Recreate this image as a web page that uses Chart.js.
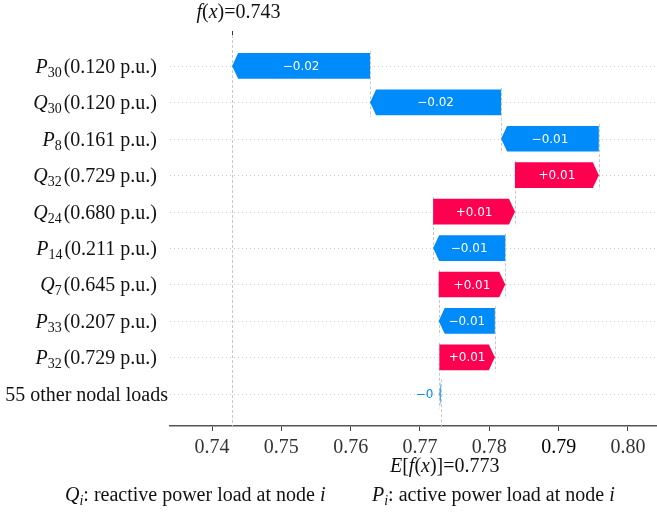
<!DOCTYPE html>
<html>
<head>
<meta charset="utf-8">
<script src="https://cdn.jsdelivr.net/npm/chart.js@4"></script>
<style>
  html, body { margin: 0; padding: 0; background: #fff; }
</style>
</head>
<body>
<canvas id="waterfall" width="657" height="512"></canvas>
<script>
// E[f(x)] and the per-feature contributions, top row first
const baseValue = 0.773;
const loadSymbols = ['P', 'Q', 'P', 'Q', 'Q', 'P', 'Q', 'P', 'P'];
const loadNodes = ['30', '30', '8', '32', '24', '14', '7', '33', '32'];
const loadValues = ['0.120', '0.120', '0.161', '0.729', '0.680', '0.211', '0.645', '0.207', '0.729'];
const otherLabel = '55 other nodal loads';
const shapValues = [-0.0199, -0.0189, -0.0141, 0.0121, 0.0118, -0.0104, 0.0096, -0.0081, 0.0080, -0.0002];
const xTicks = [0.74, 0.75, 0.76, 0.77, 0.78, 0.79, 0.80];

const POS_COLOR = '#ff0051';
const NEG_COLOR = '#008bfb';
const SERIF = '"Liberation Serif", "Times New Roman", serif';

// waterfall: start at the base value on the bottom row and walk up
const barStart = [];
const barEnd = [];
let acc = baseValue;
for (let i = shapValues.length - 1; i >= 0; i--) {
    barStart[i] = acc;
    acc += shapValues[i];
    barEnd[i] = acc;
}
const fxValue = acc;

function fmtShap(v) {
    const s = Math.abs(v).toFixed(2).replace(/0+$/, '').replace(/\.$/, '');
    return (v < 0 ? '\u2212' : '+') + s;
}

// parts: {t, it, sub} or {gap}
function drawRich(ctx, parts, x, y, align, size) {
    size = size || 20;
    const fontOf = p => `${p.it ? 'italic ' : ''}${p.sub ? Math.round(size * 0.7) : size}px ${SERIF}`;
    let total = 0;
    parts.forEach(p => {
        if (p.gap) { total += p.gap; return; }
        ctx.font = fontOf(p);
        total += ctx.measureText(p.t).width;
    });
    let cx = align === 'right' ? x - total : align === 'center' ? x - total / 2 : x;
    ctx.textAlign = 'left';
    ctx.textBaseline = 'alphabetic';
    parts.forEach(p => {
        if (p.gap) { cx += p.gap; return; }
        ctx.font = fontOf(p);
        ctx.fillText(p.t, cx, y + (p.sub ? size * 0.2 : 0));
        cx += ctx.measureText(p.t).width;
    });
}

const waterfallPlugin = {
    id: 'waterfall',
    beforeDatasetsDraw(chart) {
        const { ctx, chartArea: area, scales: { x, y } } = chart;
        ctx.save();
        // dotted row guides
        ctx.strokeStyle = '#cccccc';
        ctx.lineWidth = 1;
        ctx.setLineDash([1, 3]);
        shapValues.forEach((v, i) => {
            const py = Math.round(y.getPixelForValue(i)) + 0.5;
            ctx.beginPath();
            ctx.moveTo(area.left, py);
            ctx.lineTo(area.right, py);
            ctx.stroke();
        });
        // f(x) line and connectors
        ctx.strokeStyle = '#c8c8c8';
        ctx.setLineDash([3, 2]);
        const fxPx = Math.round(x.getPixelForValue(fxValue)) + 0.5;
        ctx.beginPath();
        ctx.moveTo(fxPx, area.top);
        ctx.lineTo(fxPx, area.bottom);
        ctx.stroke();
        shapValues.forEach((v, i) => {
            const px = Math.round(x.getPixelForValue(barStart[i])) + 0.5;
            const y0 = y.getPixelForValue(i - 0.4);
            const y1 = Math.min(area.bottom, y.getPixelForValue(i + 1.4));
            ctx.beginPath();
            ctx.moveTo(px, y0);
            ctx.lineTo(px, y1);
            ctx.stroke();
        });
        ctx.restore();
    },
    afterDatasetsDraw(chart) {
        const { ctx } = chart;
        const meta = chart.getDatasetMeta(0);
        ctx.save();
        meta.data.forEach((el, i) => {
            const p = el.getProps(['x', 'y', 'base', 'height'], true);
            const v = shapValues[i];
            const left = Math.min(p.x, p.base);
            const right = Math.max(p.x, p.base);
            const top = p.y - p.height / 2;
            const bottom = p.y + p.height / 2;
            const hl = Math.min(6, right - left);
            ctx.fillStyle = v >= 0 ? POS_COLOR : NEG_COLOR;
            ctx.beginPath();
            if (v >= 0) {
                ctx.moveTo(left, top);
                ctx.lineTo(right - hl, top);
                ctx.lineTo(right, p.y);
                ctx.lineTo(right - hl, bottom);
                ctx.lineTo(left, bottom);
            } else {
                ctx.moveTo(left, p.y);
                ctx.lineTo(left + hl, top);
                ctx.lineTo(right, top);
                ctx.lineTo(right, bottom);
                ctx.lineTo(left + hl, bottom);
            }
            ctx.closePath();
            ctx.fill();

            const label = fmtShap(v);
            ctx.font = '12px "DejaVu Sans", sans-serif';
            ctx.textBaseline = 'middle';
            const tw = ctx.measureText(label).width;
            if (tw + 10 < right - left) {
                ctx.fillStyle = '#ffffff';
                ctx.textAlign = 'center';
                ctx.fillText(label, (left + right) / 2, p.y + 1);
            } else if (v < 0) {
                ctx.fillStyle = NEG_COLOR;
                ctx.textAlign = 'right';
                ctx.fillText(label, left - 6, p.y + 1);
            } else {
                ctx.fillStyle = POS_COLOR;
                ctx.textAlign = 'left';
                ctx.fillText(label, right + 6, p.y + 1);
            }
        });
        ctx.restore();
    },
    afterDraw(chart) {
        const { ctx, chartArea: area, scales: { x, y } } = chart;
        ctx.save();
        ctx.fillStyle = '#111111';
        // feature names
        shapValues.forEach((v, i) => {
            const py = y.getPixelForValue(i) + 7;
            if (i < loadSymbols.length) {
                drawRich(ctx, [
                    { t: loadSymbols[i], it: true },
                    { t: loadNodes[i], sub: true },
                    { gap: 2 },
                    { t: `(${loadValues[i]} p.u.)` }
                ], area.left - 13, py, 'right');
            } else {
                drawRich(ctx, [{ t: otherLabel }], area.left - 2, py, 'right');
            }
        });
        // f(x) on top
        const fxPx = Math.round(x.getPixelForValue(fxValue)) + 0.5;
        ctx.strokeStyle = '#333333';
        ctx.lineWidth = 1;
        ctx.beginPath();
        ctx.moveTo(fxPx, area.top - 4);
        ctx.lineTo(fxPx, area.top);
        ctx.stroke();
        drawRich(ctx, [
            { t: 'f', it: true }, { t: '(' }, { t: 'x', it: true },
            { t: ')=' + fxValue.toFixed(3) }
        ], fxPx + 6, 18, 'center');
        // E[f(x)] under the axis
        drawRich(ctx, [
            { t: 'E', it: true }, { t: '[' }, { t: 'f', it: true }, { t: '(' },
            { t: 'x', it: true }, { t: ')]=' + baseValue.toFixed(3) }
        ], x.getPixelForValue(baseValue) + 4, 472, 'center');
        // notation note
        drawRich(ctx, [
            { t: 'Q', it: true }, { t: 'i', it: true, sub: true },
            { t: ': reactive power load at node ' }, { t: 'i', it: true }
        ], 65, 501, 'left');
        drawRich(ctx, [
            { t: 'P', it: true }, { t: 'i', it: true, sub: true },
            { t: ': active power load at node ' }, { t: 'i', it: true }
        ], 372, 501, 'left');
        ctx.restore();
    }
};

new Chart(document.getElementById('waterfall'), {
    type: 'bar',
    data: {
        datasets: [{
            data: shapValues.map((v, i) => ({ x: [barStart[i], barEnd[i]], y: i })),
            backgroundColor: 'rgba(0,0,0,0)',
            barPercentage: 1,
            categoryPercentage: 0.83
        }]
    },
    options: {
        indexAxis: 'y',
        responsive: false,
        animation: false,
        layout: { padding: { left: 170, top: 35, right: 0, bottom: 47 } },
        plugins: { legend: { display: false }, tooltip: { enabled: false } },
        scales: {
            x: {
                type: 'linear',
                min: 0.73394,
                max: 0.80419,
                afterBuildTicks: s => { s.ticks = xTicks.map(v => ({ value: v })); },
                grid: { drawOnChartArea: false, tickLength: 5, tickColor: '#444444' },
                border: { color: '#555555', width: 1.5 },
                ticks: {
                    font: { family: 'Liberation Serif', size: 20 },
                    color: c => (c.tick && Math.abs(c.tick.value - 0.79) < 1e-9 ? '#000000' : '#333333'),
                    padding: 5,
                    maxRotation: 0,
                    autoSkip: false,
                    callback: v => v.toFixed(2)
                }
            },
            y: {
                type: 'linear',
                reverse: true,
                offset: false,
                min: -0.849,
                max: 9.885,
                display: false
            }
        }
    },
    plugins: [waterfallPlugin]
});
</script>
</body>
</html>
